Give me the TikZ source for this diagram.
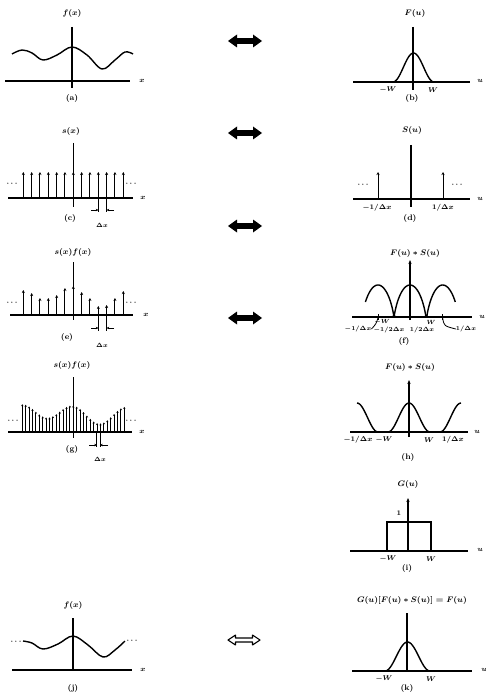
\documentclass[tikz,border=0pt]{standalone}
\usetikzlibrary{arrows.meta}
\begin{document}
\begin{tikzpicture}[x=1pt,y=-1pt,
  ax/.style={line width=1.1pt},
  crv/.style={line width=1.4pt},
  spk/.style={line width=1pt,-{Stealth[length=3pt,width=3pt]}},
  spkg/.style={line width=0.85pt,-{Stealth[length=2pt,width=2.2pt]}},
  vax/.style={line width=1.1pt,-{Stealth[length=4pt,width=3.2pt]}},
  tickln/.style={line width=0.8pt},
  dxarr/.style={line width=0.8pt,-{Stealth[length=2.5pt,width=2.6pt]}},
  toplbl/.style={font=\fontsize{8}{9}\selectfont\boldmath, inner sep=0pt},
  captxt/.style={font=\fontsize{8}{9}\selectfont\bfseries, inner sep=0pt},
  lbl/.style={font=\fontsize{7}{8}\selectfont\boldmath\bfseries, inner sep=0pt},
  slbl/.style={font=\fontsize{6.3}{7}\selectfont\boldmath, inner sep=0pt},
  fatarrow/.pic={\fill (-17,0) -- (-8,-6.5) -- (-8,-2.8) -- (8,-2.8) -- (8,-6.5) -- (17,0) -- (8,6.5) -- (8,2.8) -- (-8,2.8) -- (-8,6.5) -- cycle;},
  hollowarrow/.pic={\filldraw[fill=white,line width=1.1pt,line join=round] (-16,0) -- (-8.5,-5) -- (-8.5,-2) -- (8.5,-2) -- (8.5,-5) -- (16,0) -- (8.5,5) -- (8.5,2) -- (-8.5,2) -- (-8.5,5) -- cycle;}
]
\useasboundingbox (0,0) rectangle (486,695);

% ---------- (a)
\draw[ax] (5,81) -- (130,81);
\draw[ax] (72,27) -- (72,88);
\draw[crv] plot[smooth,tension=0.6] coordinates {(12,54) (22,50) (32,53) (43,60) (57,55) (72,47) (87,55) (102,69) (115,60) (125,52) (133,54)};
\node[toplbl] (fa) at (72,14) {$f(x)$};
\node[lbl] (xa) at (142,81) {$x$};
\node[captxt] (ca) at (72,99) {(a)};

% ---------- (b)
\draw[ax] (353,82) -- (470,82);
\draw[ax] (413,27) -- (413,90);
\draw[crv] plot[domain=-1:1,samples=41] ({413.5+20.5*\x},{82-29*(1+cos(180*\x))/2});
\node[toplbl] (Fb) at (415,14) {$F(u)$};
\node[lbl] (mWb) at (388,90) {$-W$};
\node[lbl] (Wb) at (433,90) {$W$};
\node[lbl] (ub) at (480,81) {$u$};
\node[captxt] (cb) at (412,99) {(b)};

% ---------- (c)
\draw[ax] (8,198) -- (133,198);
\draw[ax] (73.3,143) -- (73.3,207);
\foreach \i in {-6,...,6} \draw[spk] ({73.3+8.33*\i},198) -- ({73.3+8.33*\i},172);
\node[lbl] (dcl) at (12,184) {$\cdots$};
\node[lbl] (dcr) at (131,184) {$\cdots$};
\draw[tickln] (98.3,198) -- (98.3,212);
\draw[tickln] (106.7,198) -- (106.7,212);
\coordinate (c1) at (91,210); \coordinate (c2) at (98.3,210);
\coordinate (c3) at (114,210); \coordinate (c4) at (106.7,210);
\draw[dxarr] (c1) -- (c2);
\draw[dxarr] (c3) -- (c4);
\node[slbl] (dxc) at (102,225) {$\Delta x$};
\node[toplbl] (sc) at (71,132) {$s(x)$};
\node[lbl] (xc) at (143,198) {$x$};
\node[captxt] (cc) at (70,218) {(c)};

% ---------- (d)
\draw[ax] (353,199) -- (470,199);
\draw[ax] (411,145) -- (411,207);
\draw[spk] (378,199) -- (378,172);
\draw[spk] (443,199) -- (443,172);
\node[lbl] (ddl) at (363,185) {$\cdots$};
\node[lbl] (ddr) at (457,185) {$\cdots$};
\node[toplbl] (Sd) at (412,131) {$S(u)$};
\node[lbl] (ld1) at (377,208) {$-1/\Delta x$};
\node[lbl] (ld2) at (443,208) {$1/\Delta x$};
\node[lbl] (ud) at (480,199) {$u$};
\node[captxt] (cd) at (410,218) {(d)};

% ---------- (e)
\draw[ax] (10,315) -- (133,315);
\draw[ax] (73.3,262) -- (73.3,320);
\foreach \i/\h in {-6/25,-5/22,-4/17,-3/17,-2/20,-1/27,0/29,1/23,2/17,3/9,4/10,5/17,6/24}
  \draw[spk] ({73.3+8.33*\i},315) -- ({73.3+8.33*\i},{315-\h});
\node[lbl] (del) at (12,303) {$\cdots$};
\node[lbl] (der) at (131,303) {$\cdots$};
\draw[tickln] (98.3,315) -- (98.3,331);
\draw[tickln] (106.7,315) -- (106.7,331);
\coordinate (e1) at (91,328); \coordinate (e2) at (98.3,328);
\coordinate (e3) at (114,328); \coordinate (e4) at (106.7,328);
\draw[dxarr] (e1) -- (e2);
\draw[dxarr] (e3) -- (e4);
\node[slbl] (dxe) at (102,345) {$\Delta x$};
\node[toplbl] (se) at (73,252) {$s(x)f(x)$};
\node[lbl] (xe) at (146,315) {$x$};
\node[captxt] (ce) at (67,337) {(e)};

% ---------- (f)
\draw[ax] (352,317) -- (472,317);
\draw[vax] (410,320) -- (410,260);
\draw[crv] plot[domain=-90:90,samples=41] ({410+16*(0.5*sin(\x)+0.5*\x/90)},{317-32*cos(\x)});
\draw[crv] plot[domain=-62:90,samples=41] ({378+16*(0.5*sin(\x)+0.5*\x/90)},{317-32*cos(\x)});
\draw[crv] plot[domain=-90:62,samples=41] ({442.7+16*(0.5*sin(\x)+0.5*\x/90)},{317-32*cos(\x)});
\fill (394,316) circle (1.6);
\fill (426.3,316) circle (1.6);
\draw[tickln] (378,314) -- (378,320);
\draw[tickln] (442.7,314) -- (442.7,320);
\node[slbl] (lf1) at (358,329) {$-1/\Delta x$};
\node[slbl] (lf2) at (382,322) {$-W$};
\node[slbl] (lf3) at (389,330) {$-1/2\Delta x$};
\node[slbl] (lf4) at (422,330) {$1/2\Delta x$};
\node[slbl] (lf5) at (431,322) {$W$};
\node[slbl] (lf6) at (466,329) {$1/\Delta x$};
\coordinate (fl) at (378,318); \coordinate (fr) at (442.7,318);
\draw[tickln] (fl) .. controls (376,324) .. (lf1.east);
\draw[tickln] (fr) .. controls (444,326) .. (lf6.west);
\node[toplbl] (Ff) at (415,253) {$F(u)*S(u)$};
\node[lbl] (uf) at (482,317) {$u$};
\node[captxt] (cf) at (404,341) {(f)};

% ---------- (g)
\draw[ax] (8,432) -- (132,432);
\draw[ax] (73.3,377) -- (73.3,438);
\foreach \i in {-15,...,15} {
  \pgfmathsetmacro\d{3.4*\i}
  \pgfmathsetmacro\h{19+7.5*cos(6.92*\d)-3*sin(3*\d)}
  \draw[spkg] ({73.3+\d},432) -- ({73.3+\d},{432-\h});
}
\node[lbl] (dgl) at (13,421) {$\cdots$};
\node[lbl] (dgr) at (131,421) {$\cdots$};
\draw[tickln] (96.8,432) -- (96.8,447);
\draw[tickln] (100.2,432) -- (100.2,447);
\coordinate (g1) at (89,445); \coordinate (g2) at (96.8,445);
\coordinate (g3) at (108,445); \coordinate (g4) at (100.2,445);
\draw[dxarr] (g1) -- (g2);
\draw[dxarr] (g3) -- (g4);
\node[slbl] (dxg) at (100,459) {$\Delta x$};
\node[toplbl] (sg) at (72,365) {$s(x)f(x)$};
\node[lbl] (xg) at (142,432) {$x$};
\node[captxt] (cg) at (72,449) {(g)};

% ---------- (h)
\draw[ax] (350,432) -- (468,432);
\draw[vax] (409,437) -- (409,380);
\draw[crv] plot[domain=-1:1,samples=41] ({409+21*\x},{432-29*(1+cos(180*\x))/2});
\draw[crv] plot[domain=0:1,samples=21] ({357+21*\x},{432-29*(1+cos(180*\x))/2});
\draw[crv] plot[domain=-1:0,samples=21] ({461+21*\x},{432-29*(1+cos(180*\x))/2});
\node[lbl] (lh1) at (358,440) {$-1/\Delta x$};
\node[lbl] (lh2) at (384,440) {$-W$};
\node[lbl] (lh3) at (429,440) {$W$};
\node[lbl] (lh4) at (453,440) {$1/\Delta x$};
\node[toplbl] (Fh) at (410,367) {$F(u)*S(u)$};
\node[lbl] (uh) at (477,432) {$u$};
\node[captxt] (ch) at (408,457) {(h)};

% ---------- (i)
\draw[ax] (350,551) -- (468,551);
\draw[vax] (408,551) -- (408,498);
\draw[line width=1.1pt] (387,551) -- (387,522) -- (431,522) -- (431,551);
\node[lbl] (oi) at (399,513) {1};
\node[toplbl] (Gi) at (408,484) {$G(u)$};
\node[lbl] (li1) at (388,559) {$-W$};
\node[lbl] (li2) at (431,559) {$W$};
\node[lbl] (ui) at (480,550) {$u$};
\node[captxt] (ci) at (407,568) {(i)};

% ---------- (j)
\draw[ax] (12,670) -- (132,670);
\draw[ax] (73,618) -- (73,670);
\draw[crv] plot[smooth,tension=0.6] coordinates {(23,641) (32,643) (43,649) (58,644) (73,636) (88,645) (103,657) (115,650) (125,641)};
\node[lbl] (djl) at (16,642) {$\cdots$};
\node[lbl] (djr) at (132,641) {$\cdots$};
\node[toplbl] (fj) at (73,605) {$f(x)$};
\node[lbl] (xj) at (143,670) {$x$};
\node[captxt] (cj) at (73,688) {(j)};

% ---------- (k)
\draw[ax] (352,671) -- (472,671);
\draw[ax] (407,613) -- (407,671);
\draw[crv] plot[domain=-1:1,samples=41] ({407.5+22.5*\x},{671-29*(1+cos(180*\x))/2});
\node[lbl] (lk1) at (384,679) {$-W$};
\node[lbl] (lk2) at (431,679) {$W$};
\node[toplbl] (Gk) at (412,600) {$G(u)[F(u)*S(u)] = F(u)$};
\node[lbl] (uk) at (484,670) {$u$};
\node[captxt] (ck) at (407,688) {(k)};

% ---------- transform-pair arrows
\pic at (245,41) {fatarrow};
\pic at (245,133) {fatarrow};
\pic at (245,226) {fatarrow};
\pic at (245,318) {fatarrow};
\pic at (244,640) {hollowarrow};
\end{tikzpicture}
\end{document}
